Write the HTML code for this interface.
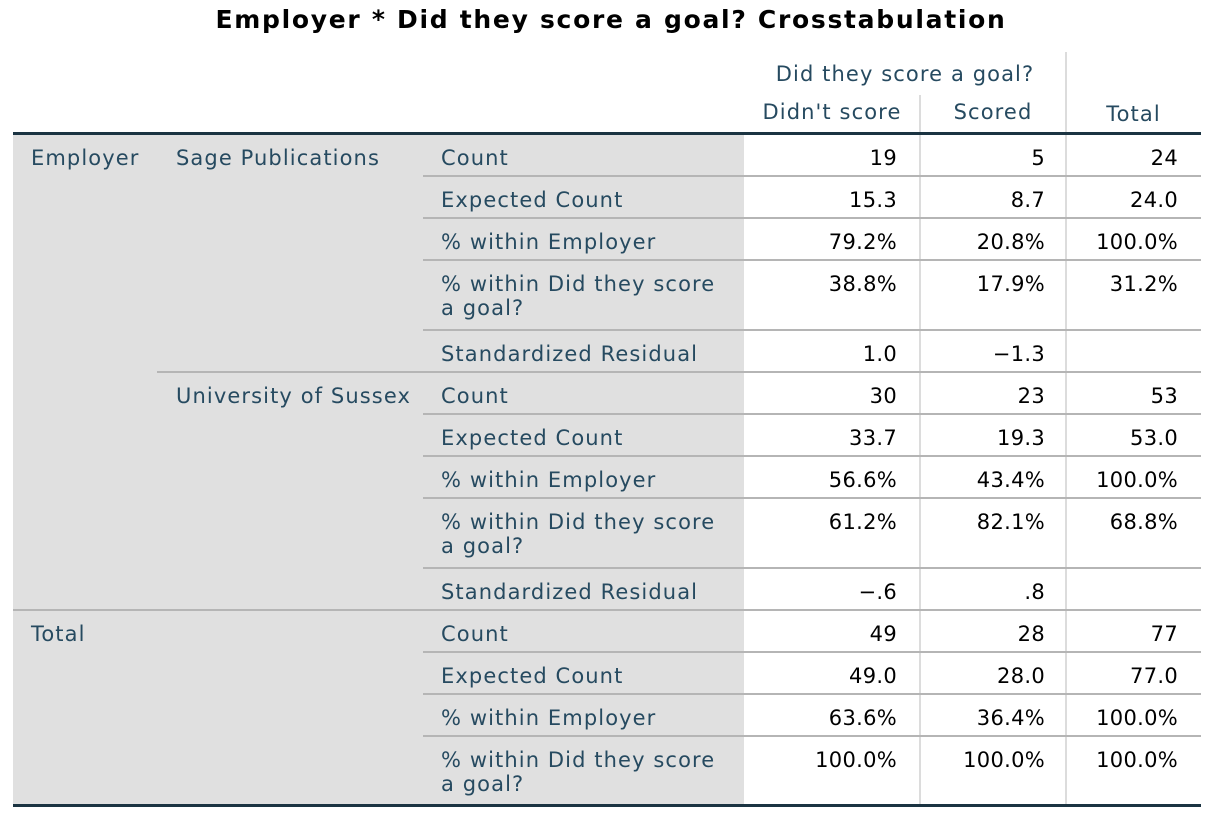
<!DOCTYPE html>
<html><head><meta charset="utf-8"><style>
body{margin:0;width:1222px;height:830px;background:#fff;position:relative;overflow:hidden;font-family:"DejaVu Sans","Liberation Sans",sans-serif;}
div{position:absolute;white-space:nowrap;}
.t{color:#264a60;font-size:21px;line-height:24px;letter-spacing:1.1px;}
.n{color:#000;font-size:21px;line-height:24px;text-align:right;letter-spacing:0.3px;}
.h{background:#b5b5b5;height:2px;}
.v{background:#dcdcdc;width:2px;}
</style></head><body>
<div style="left:0;width:1222px;top:4px;text-align:center;font-weight:bold;font-size:25px;line-height:32px;color:#000;letter-spacing:1.7px">Employer * Did they score a goal? Crosstabulation</div>
<div style="left:13px;top:133px;width:731px;height:672px;background:#e0e0e0"></div>
<div class="v" style="left:919px;top:95px;height:710px"></div>
<div class="v" style="left:1065px;top:52px;height:753px"></div>
<div class="t" style="left:745px;width:320px;text-align:center;top:62px">Did they score a goal?</div>
<div class="t" style="left:744px;width:176px;text-align:center;top:100px">Didn't score</div>
<div class="t" style="left:920px;width:146px;text-align:center;top:100px">Scored</div>
<div class="t" style="left:1066px;width:135px;text-align:center;top:102px">Total</div>
<div class="t" style="left:31px;top:146px">Employer</div>
<div class="t" style="left:176px;top:146px">Sage Publications</div>
<div class="t" style="left:176px;top:384px">University of Sussex</div>
<div class="t" style="left:31px;top:622px">Total</div>
<div id="rows"></div>
<div style="left:13px;top:132px;width:1188px;height:3px;background:#1b3442"></div>
<div style="left:13px;top:804px;width:1188px;height:3px;background:#1b3442"></div>
<script>
var R=[
["Count","19","5","24",42,423],
["Expected Count","15.3","8.7","24.0",42,423],
["% within Employer","79.2%","20.8%","100.0%",42,423],
["% within Did they score<br>a goal?","38.8%","17.9%","31.2%",70,423],
["Standardized Residual","1.0","&minus;1.3","",42,157],
["Count","30","23","53",42,423],
["Expected Count","33.7","19.3","53.0",42,423],
["% within Employer","56.6%","43.4%","100.0%",42,423],
["% within Did they score<br>a goal?","61.2%","82.1%","68.8%",70,423],
["Standardized Residual","&minus;.6",".8","",42,13],
["Count","49","28","77",42,423],
["Expected Count","49.0","28.0","77.0",42,423],
["% within Employer","63.6%","36.4%","100.0%",42,423],
["% within Did they score<br>a goal?","100.0%","100.0%","100.0%",70,-1]];
var y=134,h="";
R.forEach(function(r){
h+='<div class="t" style="left:441px;top:'+(y+12)+'px">'+r[0]+'</div>';
h+='<div class="n" style="left:744px;width:153px;top:'+(y+12)+'px">'+r[1]+'</div>';
h+='<div class="n" style="left:920px;width:125px;top:'+(y+12)+'px">'+r[2]+'</div>';
h+='<div class="n" style="left:1066px;width:112px;top:'+(y+12)+'px">'+r[3]+'</div>';
y+=r[4];
if(r[5]>=0)h+='<div class="h" style="left:'+r[5]+'px;width:'+(1201-r[5])+'px;top:'+(y-1)+'px"></div>';
});
document.getElementById("rows").outerHTML=h;
</script>
</body></html>
